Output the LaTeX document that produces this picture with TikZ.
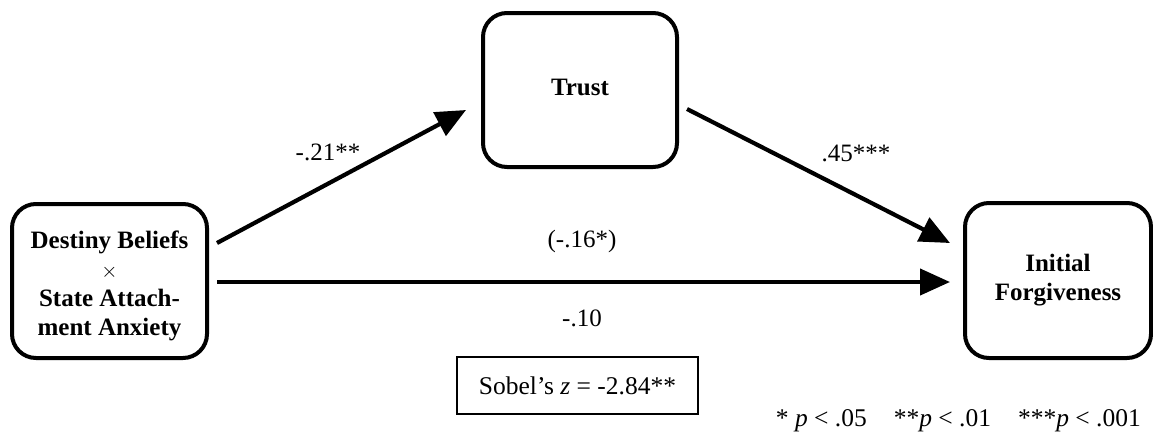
\documentclass[tikz,border=0pt]{standalone}
\usepackage{fontspec}
\setmainfont{Liberation Serif}
\usetikzlibrary{arrows.meta}
\begin{document}
\begin{tikzpicture}[x=1pt,y=-1pt,
  varbox/.style={draw,line width=4pt,rounded corners=24pt,align=center,
    font=\fontsize{25}{29}\selectfont\bfseries,inner sep=0pt},
  boxtext/.style={align=center,font=\fontsize{25}{29}\selectfont\bfseries,inner sep=0pt},
  arr/.style={line width=4.2pt,-{Triangle[length=30pt,width=26pt]}},
  coef/.style={font=\fontsize{25}{29}\selectfont,inner sep=0pt},
  note/.style={font=\fontsize{25.5}{29}\selectfont,inner sep=0pt}]
\useasboundingbox (0,0) rectangle (1153,437);

% variables
\node[varbox,minimum width=195pt,minimum height=154pt] (L) at (109.5,281) {};
\node[boxtext] (Ltext) at (109.5,286)
  {Destiny Beliefs\\{\mdseries\fontsize{20}{29}\selectfont$\times$}\\State Attach-\\ment Anxiety};
\node[varbox,minimum width=194pt,minimum height=154pt] (T) at (580,90) {};
\node[boxtext] (Ttext) at (580,87) {Trust};
\node[varbox,minimum width=186pt,minimum height=155pt] (R) at (1058,280.5) {Initial\\Forgiveness};

% paths
\draw[arr] ([shift={(8pt,38pt)}]L.east) -- ([shift={(-15pt,-20pt)}]T.west);
\draw[arr] ([shift={(8pt,-19pt)}]T.east) -- ([shift={(-13pt,37.5pt)}]R.west);
\draw[arr] ([shift={(8pt,-1pt)}]L.east) -- ([shift={(-13pt,-1.5pt)}]R.west);

% coefficients
\node[coef] (a) at (328,152) {-.21**};
\node[coef] (b) at (856,153) {.45***};
\node[coef] (c) at (582,241) {(-.16*)};
\node[coef] (cp) at (582,318) {-.10};

% Sobel test
\node[draw,line width=1.4pt,minimum width=241pt,minimum height=57pt,inner sep=0pt,
  font=\fontsize{25.5}{29}\selectfont] (S) at (577.5,385.5) {Sobel’s \textit{z} = -2.84**};

% significance levels
\node[note,anchor=east] (N) at (1141,421)
  {* \textit{p} < .05\hspace{27pt}**\textit{p} < .01\hspace{27pt}***\textit{p} < .001};
\end{tikzpicture}
\end{document}
